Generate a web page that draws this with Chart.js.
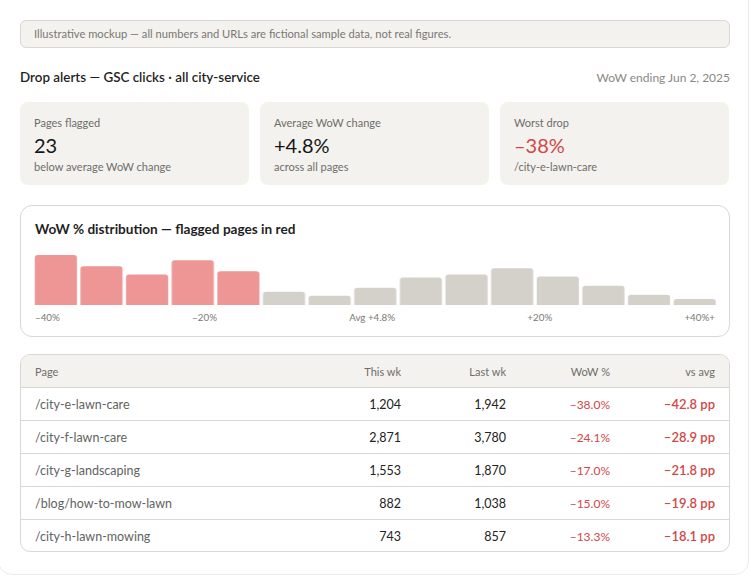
<!DOCTYPE html>
<html>
<head>
<meta charset="utf-8">
<script src="https://cdn.jsdelivr.net/npm/chart.js@4.4.1/dist/chart.umd.min.js"></script>
<style>
  html, body { margin:0; padding:0; background:#fff; }
  body { width:751px; height:577px; overflow:hidden; font-family: Lato, "Noto Sans", sans-serif; color:#222; position:relative; }
  .frame { position:absolute; left:-2px; top:-20px; width:751px; height:595px; border:1px solid #ecebe8; border-radius:14px; box-sizing:border-box; }
  .notice { position:absolute; left:20px; top:20px; width:710px; height:28px; box-sizing:border-box; background:#f3f2ef; border:1px solid #d9d7d1; border-radius:6px; font-size:11.2px; color:#7a7873; padding-left:13px; line-height:26px; }
  .hdr { position:absolute; left:20px; top:69px; width:710px; height:18px; }
  .hdr .t { position:absolute; left:0; top:0; font-size:13.4px; font-weight:600; color:#1f1f1f; }
  .hdr .d { position:absolute; right:0; top:1px; font-size:12px; color:#8a8883; }
  .kpi { position:absolute; top:102px; width:229px; height:83px; background:#f3f2ef; border-radius:8px; box-sizing:border-box; padding-left:14px; }
  .kpi .l { position:absolute; left:14px; top:14px; font-size:11px; color:#6f6d68; }
  .kpi .v { position:absolute; left:14px; top:31px; font-size:20px; color:#161616; }
  .kpi .s { position:absolute; left:14px; top:58px; font-size:11px; color:#6f6d68; }
  .red { color:#d04848 !important; }
  .chartcard { position:absolute; left:20px; top:205px; width:710px; height:132px; box-sizing:border-box; border:1px solid #d9d7d1; border-radius:12px; background:#fff; }
  .chartcard .ct { position:absolute; left:14px; top:15px; font-size:13.6px; font-weight:700; color:#1f1f1f; }
  .plot { position:absolute; left:12.25px; top:47px; width:683.5px; height:52px; }
  .ticks { position:absolute; left:14px; top:105px; width:680px; display:flex; justify-content:space-between; font-size:9.8px; color:#7a7873; }
  .tbl { position:absolute; left:20px; top:354px; width:710px; height:198px; box-sizing:border-box; border:1px solid #d9d7d1; border-radius:10px; overflow:hidden; }
  table { border-collapse:collapse; width:100%; font-size:12.5px; }
  th { background:#f3f2ef; color:#6f6d68; font-weight:400; height:32px; font-size:11px; }
  td { height:32px; border-top:1px solid #d9d7d1; }
  th, td { padding:0; text-align:right; }
  th:first-child, td:first-child { text-align:left; padding-left:14px; }
  td:first-child { color:#626262; }
  td.num { color:#222; }
  td.r { color:#d04848; font-size:12px; }
  td.rb { color:#d04848; font-size:13px; font-weight:600; }
</style>
</head>
<body>
<div class="frame"></div>
<div class="notice">Illustrative mockup — all numbers and URLs are fictional sample data, not real figures.</div>
<div class="hdr"><span class="t">Drop alerts — GSC clicks · all city-service</span><span class="d">WoW ending Jun 2, 2025</span></div>

<div class="kpi" style="left:20px"><div class="l">Pages flagged</div><div class="v" id="k1"></div><div class="s">below average WoW change</div></div>
<div class="kpi" style="left:260px"><div class="l">Average WoW change</div><div class="v" id="k2"></div><div class="s">across all pages</div></div>
<div class="kpi" style="left:500px"><div class="l">Worst drop</div><div class="v red" id="k3"></div><div class="s" id="k3s"></div></div>

<div class="chartcard">
  <div class="ct">WoW % distribution — flagged pages in red</div>
  <div class="plot"><canvas id="hist"></canvas></div>
  <div class="ticks" id="ticks"></div>
</div>

<div class="tbl"><table id="tab"></table></div>

<script>
// ---- data ----
const pagesFlagged = 23;
const avgWow = 4.8;
const worstDrop = -38;
const worstPage = "/city-e-lawn-care";

const binIndex = ["1","2","3","4","5","6","7","8","9","10","11","12","13","14","15"];
const binCounts = [49, 38, 30, 44, 33, 13, 9, 17, 27, 30, 36, 28, 19, 10, 6];
const binFlagged = [true, true, true, true, true, false, false, false, false, false, false, false, false, false, false];
const tickLabels = ["–40%", "–20%", "Avg +4.8%", "+20%", "+40%+"];

const pages = ["/city-e-lawn-care", "/city-f-lawn-care", "/city-g-landscaping", "/blog/how-to-mow-lawn", "/city-h-lawn-mowing"];
const thisWk = [1204, 2871, 1553, 882, 743];
const lastWk = [1942, 3780, 1870, 1038, 857];
const wowPct = [-38.0, -24.1, -17.0, -15.0, -13.3];
const vsAvg = [-42.8, -28.9, -21.8, -19.8, -18.1];

// ---- helpers ----
const fmtSigned = (v, d) => (v < 0 ? "–" : "+") + Math.abs(v).toFixed(d);
const fmtInt = v => v.toLocaleString("en-US");

document.getElementById("k1").textContent = pagesFlagged;
document.getElementById("k2").textContent = fmtSigned(avgWow, 1) + "%";
document.getElementById("k3").textContent = fmtSigned(worstDrop, 0) + "%";
document.getElementById("k3s").textContent = worstPage;

const tk = document.getElementById("ticks");
tickLabels.forEach(t => { const s = document.createElement("span"); s.textContent = t; tk.appendChild(s); });

const tab = document.getElementById("tab");
let html = '<tr><th>Page</th><th style="width:80px">This wk</th><th style="width:105px">Last wk</th><th style="width:104px">WoW %</th><th style="width:105px;padding-right:14px">vs avg</th></tr>';
pages.forEach((p, i) => {
  html += `<tr><td>${p}</td><td class="num">${fmtInt(thisWk[i])}</td><td class="num">${fmtInt(lastWk[i])}</td><td class="r">${fmtSigned(wowPct[i],1)}%</td><td class="rb" style="padding-right:14px">${fmtSigned(vsAvg[i],1)} pp</td></tr>`;
});
tab.innerHTML = html;

new Chart(document.getElementById("hist"), {
  type: "bar",
  data: {
    labels: binIndex,
    datasets: [{
      data: binCounts,
      backgroundColor: binFlagged.map(f => f ? "#ee9595" : "#d3d1ca"),
      borderRadius: 3,
      borderSkipped: "bottom",
      categoryPercentage: 1,
      barPercentage: 0.923
    }]
  },
  options: {
    responsive: true,
    maintainAspectRatio: false,
    animation: false,
    layout: { padding: 0 },
    plugins: { legend: { display: false }, tooltip: { enabled: false } },
    scales: {
      x: { display: false },
      y: { display: false, min: 0, max: 51 }
    }
  }
});
</script>
</body>
</html>
